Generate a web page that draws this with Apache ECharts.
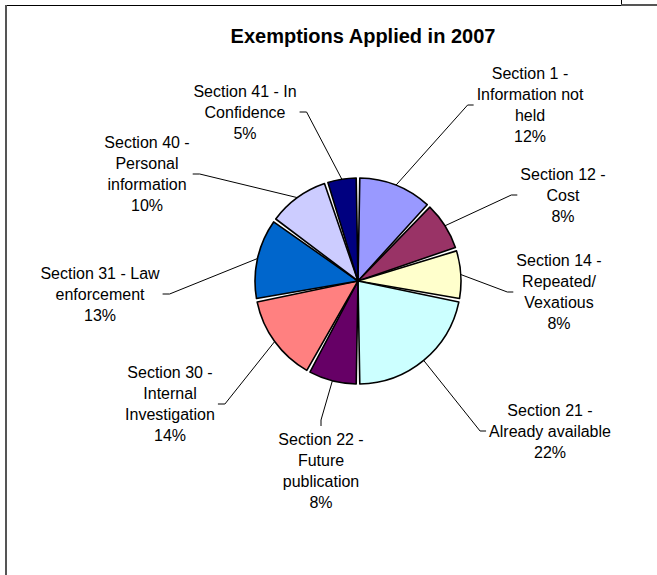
<!DOCTYPE html>
<html><head><meta charset="utf-8">
<script src="https://cdn.jsdelivr.net/npm/echarts@6/dist/echarts.min.js"></script>
<style>html,body{margin:0;padding:0;background:#fff}#c{width:657px;height:575px}</style>
</head><body><div id="c"></div>
<script>
// ---- data ----
const titleText = 'Exemptions Applied in 2007';
const categories = [
  'Section 1 -\nInformation not\nheld',
  'Section 12 -\nCost',
  'Section 14 -\nRepeated/\nVexatious',
  'Section 21 -\nAlready available',
  'Section 22 -\nFuture\npublication',
  'Section 30 -\nInternal\nInvestigation',
  'Section 31 - Law\nenforcement',
  'Section 40 -\nPersonal\ninformation',
  'Section 41 - In\nConfidence'
];
const values = [12, 8, 8, 22, 8, 14, 13, 10, 5];
const colors = ['#9999FF', '#993366', '#FFFFCC', '#CCFFFF', '#660066', '#FF8080', '#0066CC', '#CCCCFF', '#000080'];
// label block centres and the side the leader line attaches to
const labelAnchors = [
  [530, 105, 'right'], [563, 195, 'right'], [559, 292, 'right'], [550, 431, 'right'],
  [321, 471, 'bottom'], [170, 404, 'left'], [100, 294, 'left'], [147, 174, 'left'], [245, 112, 'left']
];

const CX = 358, CY = 281, R = 103;
const FONT = '"Liberation Sans", Arial, Helvetica, sans-serif';
const total = values.reduce((a, b) => a + b, 0);
const cum = [];
values.reduce((acc, v, i) => { cum[i] = acc; return acc + v; }, 0);

const chart = echarts.init(document.getElementById('c'), null, { renderer: 'svg' });
chart.setOption({
  animation: false,
  backgroundColor: '#fff',
  graphic: [
    { type: 'line', silent: true, shape: { x1: 6, y1: 5.5, x2: 621, y2: 5.5 }, style: { stroke: '#000', lineWidth: 1 } },
    { type: 'line', silent: true, shape: { x1: 6, y1: 5, x2: 6, y2: 575 }, style: { stroke: '#555', lineWidth: 2 } },
    { type: 'line', silent: true, shape: { x1: 621.5, y1: 0, x2: 621.5, y2: 5 }, style: { stroke: '#000', lineWidth: 1 } },
    { type: 'line', silent: true, shape: { x1: 621, y1: 5, x2: 657, y2: 5 }, style: { stroke: '#555', lineWidth: 2 } },
    { type: 'text', silent: true, x: 363, y: 36, style: { text: titleText, fill: '#000', font: 'bold 20px ' + FONT, textAlign: 'center', textVerticalAlign: 'middle' } }
  ],
  series: [{
    type: 'pie',
    center: [CX, CY],
    radius: R,
    startAngle: 90,
    clockwise: true,
    padAngle: 2,
    avoidLabelOverlap: false,
    data: categories.map((n, i) => ({ name: n, value: values[i], itemStyle: { color: colors[i] } })),
    itemStyle: { borderColor: '#000', borderWidth: 1.6 },
    label: {
      show: true, position: 'outside',
      formatter: p => p.name + '\n' + p.value + '%',
      fontFamily: FONT, fontSize: 16, lineHeight: 21, color: '#000'
    },
    labelLine: { show: true, lineStyle: { color: '#000', width: 1 } },
    emphasis: { disabled: true },
    labelLayout: function (p) {
      const a = labelAnchors[p.dataIndex];
      const w = p.labelRect.width, h = p.labelRect.height;
      const x = a[0], y = a[1], side = a[2];
      let end, knee;
      if (side === 'right') { end = [x - w / 2 - 3, y]; knee = [end[0] - 6, y]; }
      else if (side === 'left') { end = [x + w / 2 + 3, y]; knee = [end[0] + 7, y]; }
      else { end = [x, y - h / 2 - 3]; knee = [x, end[1] - 6]; }
      const mid = (cum[p.dataIndex] + values[p.dataIndex] / 2) / total * Math.PI * 2;
      const start = [CX + R * Math.sin(mid), CY - R * Math.cos(mid)];
      return { x: x, y: y, align: 'center', verticalAlign: 'middle', labelLinePoints: [start, knee, end] };
    }
  }]
});
</script></body></html>
